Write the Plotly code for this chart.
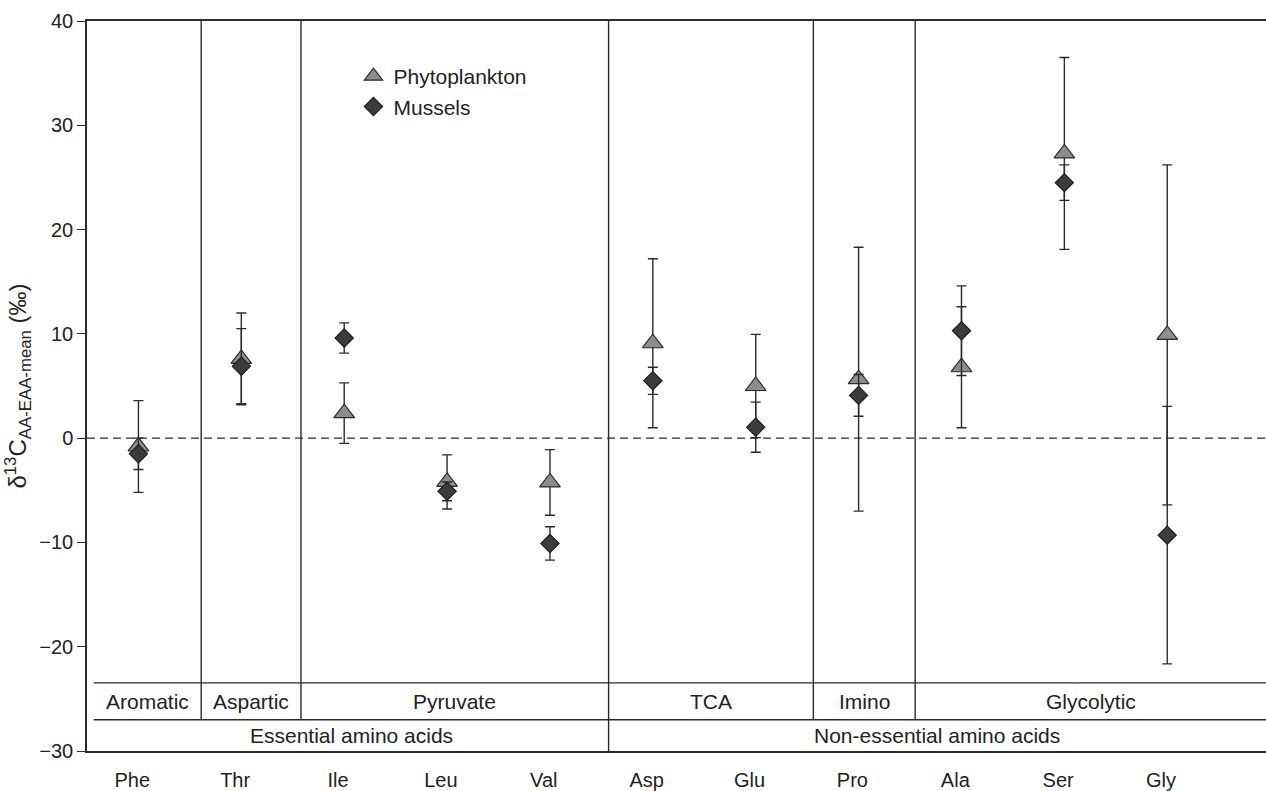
import plotly.graph_objects as go

# ---- data ----
categories = ["Phe", "Thr", "Ile", "Leu", "Val", "Asp", "Glu", "Pro", "Ala", "Ser", "Gly"]
phyto = [-0.8, 7.6, 2.4, -4.2, -4.25, 9.1, 5.0, 5.65, 6.8, 27.3, 9.9]
phyto_err = [4.4, 4.4, 2.9, 2.6, 3.15, 8.1, 4.95, 12.65, 5.8, 9.2, 16.3]
mussels = [-1.5, 6.9, 9.6, -5.1, -10.1, 5.5, 1.05, 4.1, 10.3, 24.5, -9.3]
mussels_err = [1.5, 3.6, 1.45, 0.9, 1.6, 1.3, 2.4, 2.0, 4.3, 1.7, 12.35]

groups = ["Aromatic", "Aspartic", "Pyruvate", "TCA", "Imino", "Glycolytic"]
group_sizes = [1, 1, 3, 2, 1, 3]
classes = ["Essential amino acids", "Non-essential amino acids"]
class_sizes = [5, 6]

y_ticks = [-30, -20, -10, 0, 10, 20, 30, 40]

# ---- layout constants ----
FONT = "Liberation Sans, Arial, Helvetica, sans-serif"
INK = "#2b2b2b"
X_MIN, X_MAX = -0.5, 10.96
Y_MIN, Y_MAX = -30, 40
BAND_LEFT = -0.435
BAND1_TOP, BAND2_TOP = -23.47, -27.0
SEP_X = [0.61, 1.58, 4.57, 6.56, 7.55]   # separators between groups
CLASS_SEP_INDEX = 2                      # which separator also splits the classes

x = list(range(len(categories)))

fig = go.Figure()

fig.add_trace(go.Scatter(
    x=x, y=phyto, mode="markers", name="Phytoplankton",
    marker=dict(symbol="triangle-up", size=18, color="#8d8d8f",
                line=dict(color=INK, width=1.2)),
    error_y=dict(type="data", array=phyto_err, visible=True,
                 color=INK, thickness=1.4, width=5),
))
fig.add_trace(go.Scatter(
    x=x, y=mussels, mode="markers", name="Mussels",
    marker=dict(symbol="diamond", size=14, color="#3c3c3e",
                line=dict(color="#1e1e1e", width=1.2)),
    error_y=dict(type="data", array=mussels_err, visible=True,
                 color=INK, thickness=1.4, width=5),
))

shapes = []
annotations = []

# zero line
shapes.append(dict(type="line", xref="x", yref="y", x0=X_MIN, x1=X_MAX, y0=0, y1=0,
                   line=dict(color=INK, width=1.3, dash="8px,5px"), layer="below"))

# band horizontal lines
for yb in (BAND1_TOP, BAND2_TOP):
    shapes.append(dict(type="line", xref="x", yref="y", x0=BAND_LEFT, x1=X_MAX, y0=yb, y1=yb,
                       line=dict(color=INK, width=1.4), layer="below"))

# separators
for k, sx in enumerate(SEP_X):
    y_bottom = Y_MIN if k == CLASS_SEP_INDEX else BAND2_TOP
    shapes.append(dict(type="line", xref="x", yref="y", x0=sx, x1=sx,
                       y0=Y_MAX, y1=y_bottom, line=dict(color=INK, width=1.4), layer="below"))

# group labels
edges = [BAND_LEFT] + SEP_X + [X_MAX]
for i, g in enumerate(groups):
    annotations.append(dict(x=(edges[i] + edges[i + 1]) / 2, y=(BAND1_TOP + BAND2_TOP) / 2,
                            xref="x", yref="y", text=g, showarrow=False,
                            xanchor="center", yanchor="middle",
                            font=dict(family=FONT, size=21, color="#222")))

# class labels
class_edges = [BAND_LEFT, SEP_X[CLASS_SEP_INDEX], X_MAX]
for i, c in enumerate(classes):
    annotations.append(dict(x=(class_edges[i] + class_edges[i + 1]) / 2, y=(BAND2_TOP + Y_MIN) / 2,
                            xref="x", yref="y", text=c, showarrow=False,
                            xanchor="center", yanchor="middle",
                            font=dict(family=FONT, size=21, color="#222")))

fig.update_layout(
    width=1266, height=791, autosize=False,
    margin=dict(l=87, r=0, t=21, b=40, autoexpand=False),
    paper_bgcolor="white", plot_bgcolor="white",
    font=dict(family=FONT, size=20, color="#222"),
    showlegend=True,
    legend=dict(x=0.226, y=0.952, xanchor="left", yanchor="top",
                bgcolor="rgba(0,0,0,0)", font=dict(family=FONT, size=21, color="#222"),
                itemsizing="trace", tracegroupgap=0),
    shapes=shapes,
    annotations=annotations,
    xaxis=dict(range=[X_MIN, X_MAX], showgrid=False, zeroline=False, automargin=False,
               showline=True, mirror=True, linecolor=INK, linewidth=1.5,
               tickmode="array", tickvals=[i - 0.06 for i in x], ticktext=categories,
               ticks="", ticklabelstandoff=10,
               tickfont=dict(family=FONT, size=20, color="#222")),
    yaxis=dict(range=[Y_MIN, Y_MAX], showgrid=False, zeroline=False, automargin=False,
               showline=True, linecolor=INK, linewidth=1.5,
               tickmode="array", tickvals=y_ticks,
               ticks="outside", ticklen=8, tickwidth=1.4, tickcolor=INK,
               tickfont=dict(family=FONT, size=20, color="#222"),
               title=dict(text="δ<sup>13</sup>C<sub>AA-EAA-mean</sub> (‰)",
                          font=dict(family=FONT, size=24, color="#222"), standoff=6)),
)

fig.write_html("out.html", config={"displayModeBar": False},
               post_script="document.body.style.margin='0';document.body.style.overflow='hidden';")
